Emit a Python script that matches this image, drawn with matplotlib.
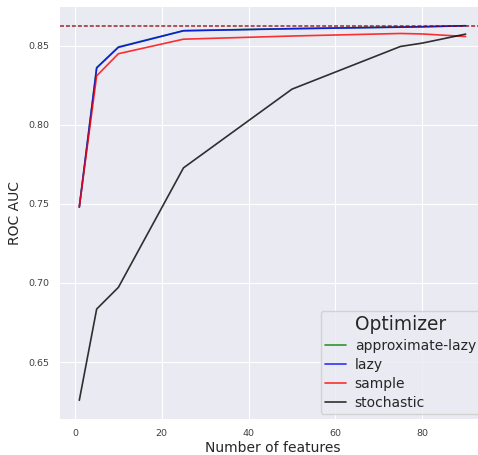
import matplotlib
matplotlib.use("Agg")
import matplotlib.pyplot as plt

# number of features tried and the ROC AUC each optimizer reached
n_features = [1, 5, 10, 25, 50, 75, 80, 90]
approx_lazy = [0.748, 0.8362, 0.8493, 0.8596, 0.8609, 0.8619, 0.8621, 0.8627]
lazy = [0.748, 0.836, 0.849, 0.8595, 0.8608, 0.8618, 0.8620, 0.8627]
sample = [0.748, 0.831, 0.845, 0.8542, 0.8562, 0.8578, 0.8575, 0.8559]
stochastic = [0.6258, 0.6835, 0.6972, 0.7728, 0.8226, 0.8496, 0.8517, 0.8574]
baseline_auc = 0.8627

series = [
    ("approximate-lazy", approx_lazy, "g"),
    ("lazy", lazy, "b"),
    ("sample", sample, "r"),
    ("stochastic", stochastic, "k"),
]

plt.style.use("seaborn-v0_8-darkgrid")
plt.rcParams["font.family"] = "DejaVu Sans"

fig = plt.figure(figsize=(4.78, 4.55), dpi=100)
ax = fig.add_axes([0.1255, 0.0791, 0.889, 0.9055])

for name, vals, col in series:
    ax.plot(n_features, vals, color=col, alpha=0.8, linewidth=1.2, label=name)

ax.axhline(baseline_auc, color="darkred", alpha=0.7, linewidth=1.3,
           linestyle="--", dashes=(2.2, 1.1))

ax.set_xlim(-3.45, 94.45)
ax.set_xticks([0, 20, 40, 60, 80])
ax.set_yticks([0.65, 0.70, 0.75, 0.80, 0.85])
ax.tick_params(axis="both", labelsize=6.8, pad=7.5, colors=".25")
ax.set_xlabel("Number of features", fontsize=10, labelpad=2, color=".15")
ax.set_ylabel("ROC AUC", fontsize=10, labelpad=5, color=".15")

leg = ax.legend(title="Optimizer", loc="lower right", fontsize=10,
                title_fontsize=13.4, frameon=True, handlelength=1.55,
                labelspacing=0.36, borderaxespad=0.35, borderpad=0.3,
                handletextpad=0.6)
leg.get_frame().set_facecolor("#eaeaf2")
leg.get_frame().set_edgecolor("0.8")

fig.savefig("out.png", dpi=100)
